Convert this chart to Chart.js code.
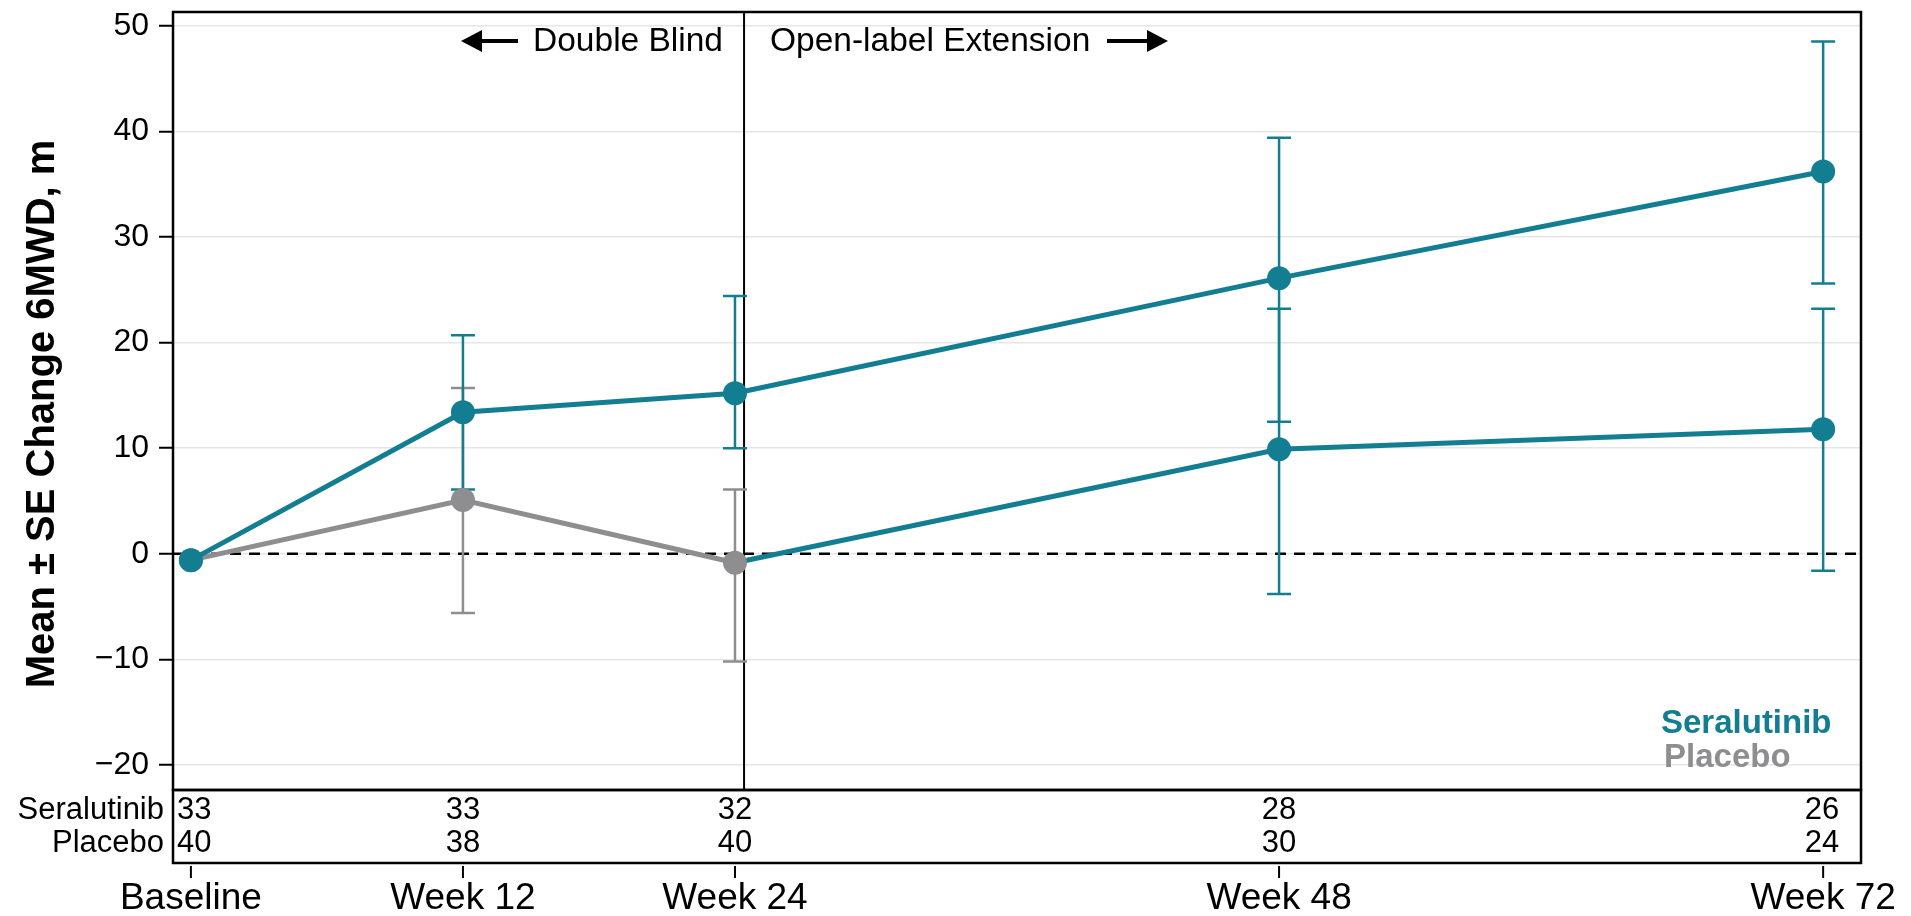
<!DOCTYPE html>
<html>
<head>
<meta charset="utf-8">
<script src="https://cdn.jsdelivr.net/npm/chart.js@4.4.1/dist/chart.umd.min.js"></script>
<style>
  html, body { margin: 0; padding: 0; background: #fff; }
  #wrap { width: 1911px; height: 916px; }
</style>
</head>
<body>
<div id="wrap"><canvas id="chart" width="1911" height="916"></canvas></div>
<script>
"use strict";

// values
const weeks = [0, 12, 24, 48, 72];
const xLabels = ["Baseline", "Week 12", "Week 24", "Week 48", "Week 72"];
const yTicks = [-20, -10, 0, 10, 20, 30, 40, 50];

const seraMean = [-0.6, 13.4, 15.2, 26.1, 36.2];
const seraLow  = [null, 6.1, 10.0, 12.5, 25.6];
const seraHigh = [null, 20.7, 24.4, 39.4, 48.5];

const placWeeks = [0, 12, 24];
const placMean = [-0.6, 5.1, -0.85];
const placLow  = [null, -5.6, -10.2];
const placHigh = [null, 15.7, 6.1];

// placebo patients crossing over to seralutinib in the extension
const crossWeeks = [24, 48, 72];
const crossMean = [-0.85, 9.9, 11.8];
const crossLow  = [null, -3.8, -1.6];
const crossHigh = [null, 23.2, 23.2];

const nSera = [33, 33, 32, 28, 26];
const nPlac = [40, 38, 40, 30, 24];
const dividerWeek = 24.4;

const TEAL = "#137e92";
const GRAY = "#8e8e90";
const FONT = '"Liberation Sans", Arial, Helvetica, sans-serif';

const $ = id => document.getElementById(id);

function pts(xs, ys) {
  return xs.map((x, i) => ({ x: x, y: ys[i] }));
}

function drawErrorBars(ctx, xs, lo, hi, color, x, y) {
  ctx.save();
  ctx.strokeStyle = color;
  ctx.lineWidth = 2.5;
  for (let i = 0; i < xs.length; i++) {
    if (lo[i] == null) continue;
    const px = x.getPixelForValue(xs[i]);
    const p1 = y.getPixelForValue(lo[i]);
    const p2 = y.getPixelForValue(hi[i]);
    ctx.beginPath();
    ctx.moveTo(px, p1); ctx.lineTo(px, p2);
    ctx.moveTo(px - 12, p1); ctx.lineTo(px + 12, p1);
    ctx.moveTo(px - 12, p2); ctx.lineTo(px + 12, p2);
    ctx.stroke();
  }
  ctx.restore();
}

function arrow(ctx, x1, x2, yy) {
  // shaft from x1 to x2, head at x2
  const dir = x2 > x1 ? 1 : -1;
  ctx.save();
  ctx.fillStyle = "#000";
  ctx.strokeStyle = "#000";
  ctx.lineWidth = 4;
  ctx.beginPath();
  ctx.moveTo(x1, yy); ctx.lineTo(x2 - dir * 14, yy);
  ctx.stroke();
  ctx.beginPath();
  ctx.moveTo(x2, yy);
  ctx.lineTo(x2 - dir * 21, yy - 11);
  ctx.lineTo(x2 - dir * 21, yy + 11);
  ctx.closePath();
  ctx.fill();
  ctx.restore();
}

const extras = {
  id: "extras",
  beforeDatasetsDraw(chart) {
    const ctx = chart.ctx, a = chart.chartArea;
    const x = chart.scales.x, y = chart.scales.y;
    // zero reference line
    ctx.save();
    ctx.strokeStyle = "#000";
    ctx.lineWidth = 2.5;
    ctx.setLineDash([11, 8]);
    ctx.beginPath();
    ctx.moveTo(a.left, y.getPixelForValue(0));
    ctx.lineTo(a.right, y.getPixelForValue(0));
    ctx.stroke();
    ctx.restore();
    // double blind / open label divider
    ctx.save();
    ctx.strokeStyle = "#000";
    ctx.lineWidth = 2;
    const dx = x.getPixelForValue(dividerWeek);
    ctx.beginPath();
    ctx.moveTo(dx, a.top); ctx.lineTo(dx, a.bottom);
    ctx.stroke();
    ctx.restore();

    drawErrorBars(ctx, placWeeks, placLow, placHigh, GRAY, x, y);
    drawErrorBars(ctx, crossWeeks, crossLow, crossHigh, TEAL, x, y);
    drawErrorBars(ctx, weeks, seraLow, seraHigh, TEAL, x, y);
  },
  afterDraw(chart) {
    const ctx = chart.ctx, a = chart.chartArea;
    const x = chart.scales.x;
    const tableBottom = a.bottom + 73;

    ctx.save();
    ctx.strokeStyle = "#000";
    ctx.lineWidth = 2.5;
    ctx.strokeRect(a.left, a.top, a.right - a.left, a.bottom - a.top);
    ctx.strokeRect(a.left, a.bottom, a.right - a.left, tableBottom - a.bottom);

    // number-at-risk table
    ctx.fillStyle = "#000";
    ctx.font = "31px " + FONT;
    ctx.textBaseline = "middle";
    ctx.textAlign = "right";
    ctx.fillText("Seralutinib", a.left - 9, a.bottom + 20);
    ctx.fillText("Placebo", a.left - 9, a.bottom + 53);
    for (let i = 0; i < weeks.length; i++) {
      let px = x.getPixelForValue(weeks[i]);
      if (i === 0) { ctx.textAlign = "left"; px = a.left + 4; }
      else if (i === weeks.length - 1) { ctx.textAlign = "right"; px = px + 16; }
      else ctx.textAlign = "center";
      ctx.fillText(String(nSera[i]), px, a.bottom + 20);
      ctx.fillText(String(nPlac[i]), px, a.bottom + 53);
    }

    // x ticks and labels under the table
    ctx.lineWidth = 2;
    ctx.textAlign = "center";
    ctx.font = "37px " + FONT;
    for (let i = 0; i < weeks.length; i++) {
      const px = x.getPixelForValue(weeks[i]);
      ctx.beginPath();
      ctx.moveTo(px, tableBottom + 3); ctx.lineTo(px, tableBottom + 15);
      ctx.stroke();
      ctx.fillText(xLabels[i], px, tableBottom + 36);
    }

    // phase annotations
    ctx.font = "33.5px " + FONT;
    ctx.textAlign = "right";
    ctx.fillText("Double Blind", 723, 42);
    arrow(ctx, 518, 461, 41);
    ctx.textAlign = "left";
    ctx.fillText("Open-label Extension", 770, 42);
    arrow(ctx, 1107, 1168, 41);

    // group labels
    ctx.font = "bold 33px " + FONT;
    ctx.fillStyle = TEAL;
    ctx.fillText("Seralutinib", 1661, a.bottom - 66);
    ctx.fillStyle = GRAY;
    ctx.fillText("Placebo", 1664, a.bottom - 32);

    // y axis title
    ctx.fillStyle = "#000";
    ctx.font = "bold 40px " + FONT;
    ctx.textAlign = "center";
    ctx.translate(43, 414);
    ctx.rotate(-Math.PI / 2);
    ctx.fillText("Mean \u00b1 SE Change 6MWD, m", 0, 0);
    ctx.restore();
  }
};

new Chart($("chart").getContext("2d"), {
  type: "line",
  data: {
    datasets: [
      {
        label: "Seralutinib",
        data: pts(weeks, seraMean),
        borderColor: TEAL, backgroundColor: TEAL,
        borderWidth: 5, pointRadius: 12, pointBorderWidth: 0,
        pointBackgroundColor: TEAL
      },
      {
        label: "Placebo",
        data: pts(placWeeks, placMean),
        borderColor: GRAY, backgroundColor: GRAY,
        borderWidth: 5, pointRadius: 12, pointBorderWidth: 0,
        pointBackgroundColor: GRAY
      },
      {
        label: "Placebo to Seralutinib",
        data: pts(crossWeeks, crossMean),
        borderColor: TEAL, backgroundColor: TEAL,
        borderWidth: 5, pointRadius: [0, 12, 12], pointBorderWidth: 0,
        pointBackgroundColor: TEAL
      }
    ]
  },
  options: {
    responsive: false,
    animation: false,
    events: [],
    layout: { padding: { left: 0, right: 50, top: 8, bottom: 126 } },
    plugins: { legend: { display: false }, tooltip: { enabled: false } },
    scales: {
      x: {
        type: "linear",
        display: false,
        min: -0.79, max: 73.67
      },
      y: {
        min: -22.36, max: 51.3,
        afterBuildTicks: s => { s.ticks = yTicks.map(v => ({ value: v })); },
        afterFit: s => { s.width = 173; s.paddingTop = 0; s.paddingBottom = 0; },
        border: { display: false },
        grid: { color: "#e6e6e6", lineWidth: 1.5, tickColor: "#000", tickLength: 14, tickWidth: 2 },
        ticks: {
          color: "#000", padding: 10,
          font: { size: 32, family: FONT },
          callback: v => (v < 0 ? "\u2212" + Math.abs(v) : String(v))
        }
      }
    }
  },
  plugins: [extras]
});
</script>
</body>
</html>
